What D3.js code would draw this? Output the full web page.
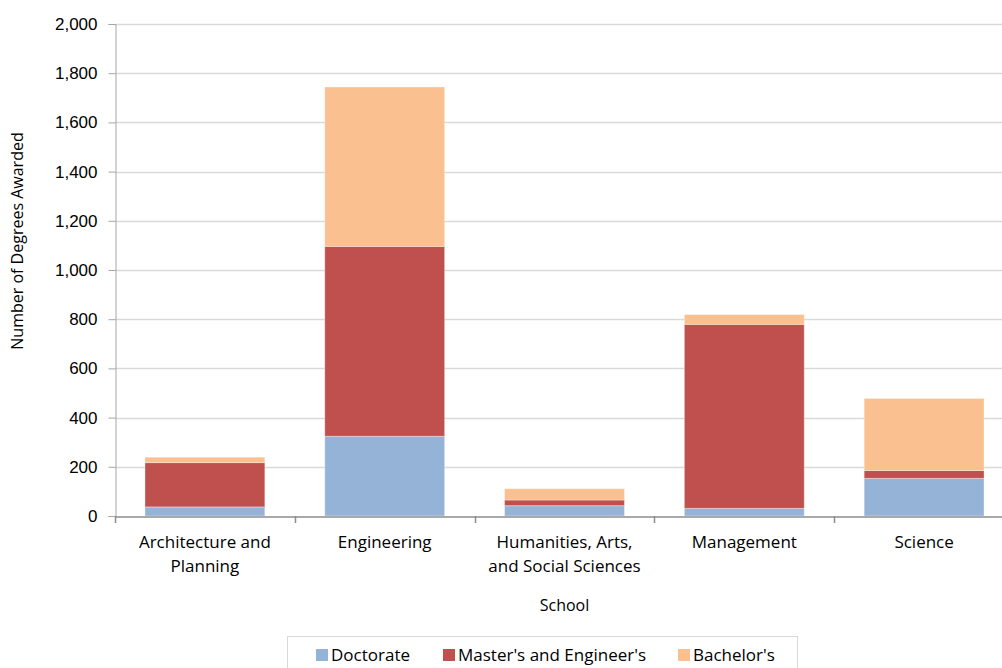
<!DOCTYPE html>
<html>
<head>
<meta charset="utf-8">
<script src="https://cdn.jsdelivr.net/npm/d3@7"></script>
<style>
  body { margin: 0; background: #fff; }
  svg { font-family: "Open Sans", "Liberation Sans", sans-serif; }
</style>
</head>
<body>
<svg id="chart"></svg>
<script>
const schools = [
  ["Architecture and", "Planning"],
  ["Engineering"],
  ["Humanities, Arts,", "and Social Sciences"],
  ["Management"],
  ["Science"]
];
const seriesNames = ["Doctorate", "Master's and Engineer's", "Bachelor's"];
const doctorate = [37, 324, 42, 31, 153];
const masters = [180, 772, 23, 748, 32];
const bachelors = [22, 648, 46, 40, 293];
const yTicks = [0, 200, 400, 600, 800, 1000, 1200, 1400, 1600, 1800, 2000];

const colors = ["#95b3d7", "#c0504d", "#fac090"];

const width = 1002;
const height = 668;
const margin = { top: 24, right: -12, bottom: 152, left: 115 };

const svg = d3.select("#chart").attr("width", width).attr("height", height);

const rows = schools.map((s, i) => ({
  key: i,
  label: s,
  "Doctorate": doctorate[i],
  "Master's and Engineer's": masters[i],
  "Bachelor's": bachelors[i]
}));

const stacked = d3.stack().keys(seriesNames)(rows);

const x = d3.scaleBand()
  .domain(rows.map(d => d.key))
  .range([margin.left, width - margin.right])
  .paddingInner(1 / 3)
  .paddingOuter(1 / 6);

const y = d3.scaleLinear()
  .domain([0, 2000])
  .range([height - margin.bottom, margin.top]);

// gridlines
svg.append("g")
  .selectAll("line")
  .data(yTicks.filter(t => t > 0))
  .join("line")
  .attr("x1", margin.left)
  .attr("x2", width)
  .attr("y1", d => Math.round(y(d)) + 0.5)
  .attr("y2", d => Math.round(y(d)) + 0.5)
  .attr("stroke", "#d9d9d9")
  .attr("stroke-width", 1.5);

// bars
svg.append("g")
  .selectAll("g")
  .data(stacked)
  .join("g")
  .attr("fill", (d, i) => colors[i])
  .selectAll("rect")
  .data(d => d)
  .join("rect")
  .attr("x", d => x(d.data.key))
  .attr("width", x.bandwidth())
  .attr("y", d => y(d[1]))
  .attr("height", d => y(d[0]) - y(d[1]))
  .attr("stroke", "#ffffff")
  .attr("stroke-opacity", 0.35)
  .attr("stroke-width", 1);

// y axis
const yAxis = svg.append("g")
  .attr("transform", `translate(${margin.left + 0.5},0)`)
  .call(d3.axisLeft(y).tickValues(yTicks).tickSize(7).tickPadding(11).tickFormat(d3.format(",")));
yAxis.select(".domain").attr("stroke", "#a6a6a6");
yAxis.selectAll(".tick line").attr("stroke", "#a6a6a6");
yAxis.selectAll("text").attr("fill", "#000").style("font-size", "17px");

// x axis
const xAxis = svg.append("g")
  .attr("transform", `translate(0,${Math.round(y(0)) + 0.5})`)
  .call(d3.axisBottom(x).tickSize(0).tickFormat(""));
xAxis.select(".domain").attr("stroke", "#8c8c8c").attr("stroke-width", 1.5);

const bandStep = x.step();
const tickXs = d3.range(0, rows.length + 1).map(i => margin.left + i * bandStep);
svg.append("g")
  .selectAll("line")
  .data(tickXs)
  .join("line")
  .attr("x1", d => Math.round(d) + 0.5)
  .attr("x2", d => Math.round(d) + 0.5)
  .attr("y1", y(0))
  .attr("y2", y(0) + 7)
  .attr("stroke", "#8c8c8c")
  .attr("stroke-width", 1.5);

// category labels
const labels = svg.append("g")
  .selectAll("text")
  .data(rows)
  .join("text")
  .attr("x", d => x(d.key) + x.bandwidth() / 2)
  .attr("y", y(0) + 32)
  .attr("text-anchor", "middle")
  .style("font-size", "17px")
  .attr("fill", "#000");
labels.selectAll("tspan")
  .data(d => d.label)
  .join("tspan")
  .attr("x", function () { return this.parentNode.getAttribute("x"); })
  .attr("dy", (d, i) => (i === 0 ? 0 : 24))
  .text(d => d);

// axis titles
svg.append("text")
  .attr("x", x(2) + x.bandwidth() / 2)
  .attr("y", 611)
  .attr("text-anchor", "middle")
  .style("font-size", "16px")
  .text("School");

svg.append("text")
  .attr("transform", "rotate(-90)")
  .attr("x", -241)
  .attr("y", 23)
  .attr("text-anchor", "middle")
  .style("font-size", "16px")
  .text("Number of Degrees Awarded");

// legend
const legend = svg.append("g");
legend.append("rect")
  .attr("x", 287.5)
  .attr("y", 636.5)
  .attr("width", 510)
  .attr("height", 40)
  .attr("fill", "#fff")
  .attr("stroke", "#d9d9d9");

const legendX = [316, 443, 678];
seriesNames.forEach((name, i) => {
  const g = legend.append("g").attr("transform", `translate(${legendX[i]},649)`);
  g.append("rect").attr("width", 12).attr("height", 12).attr("fill", colors[i]);
  g.append("text")
    .attr("x", 15)
    .attr("y", 12)
    .style("font-size", "17px")
    .text(name);
});
</script>
</body>
</html>
